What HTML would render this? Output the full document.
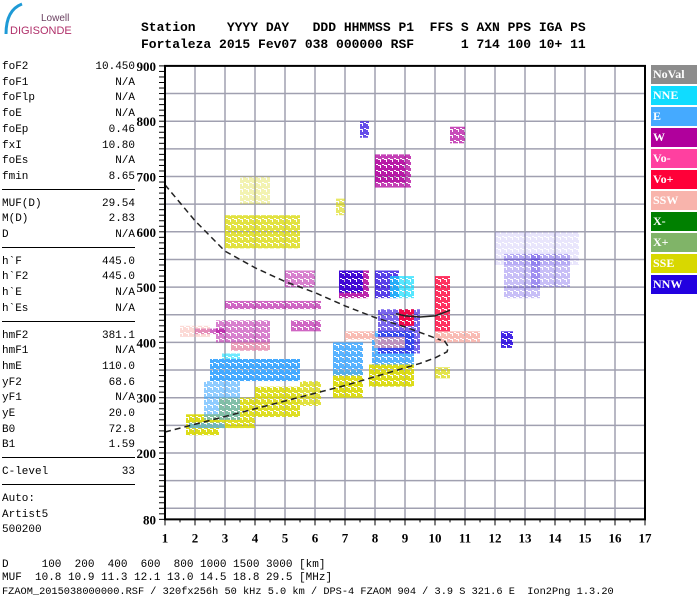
<!DOCTYPE html>
<html><head><meta charset="utf-8">
<style>
body{margin:0;background:#fff;width:700px;height:600px;overflow:hidden;position:relative;font-family:"Liberation Mono",monospace}
.hdr{position:absolute;left:141px;font:bold 13px "Liberation Mono",monospace;white-space:pre;color:#000}
.lp{position:absolute;left:2px;width:133px;font:11px "Liberation Mono",monospace;color:#000}
.lp span{position:absolute;right:0}
.sep{position:absolute;left:2px;width:133px;height:0;border-top:1px solid #000}
.bt{position:absolute;left:2px;font:11px "Liberation Mono",monospace;white-space:pre}
.lg{position:absolute;left:651px;width:46px;height:19px;color:#fff;font:bold 12px "Liberation Serif",serif;line-height:19px;padding-left:2px;box-sizing:border-box}
</style></head><body>
<div style="position:absolute;left:0;top:0;width:80px;height:40px">
<svg width="80" height="40"><path d="M6,34 Q6,10 22,4" stroke="#1e9ad6" stroke-width="3" fill="none"/>
<text x="41" y="21" font-family="Liberation Sans,sans-serif" font-size="10" fill="#6a4060">Lowell</text>
<text x="10" y="34" font-family="Liberation Sans,sans-serif" font-size="11" fill="#b0306a">DIGISONDE</text></svg></div>
<div class="hdr" style="top:20px">Station    YYYY DAY   DDD HHMMSS P1  FFS S AXN PPS IGA PS</div>
<div class="hdr" style="top:37px">Fortaleza 2015 Fev07 038 000000 RSF      1 714 100 10+ 11</div>
<div id="lp"></div>
<div class="bt" style="top:559px">D     100  200  400  600  800 1000 1500 3000 [km]</div>
<div class="bt" style="top:572px">MUF  10.8 10.9 11.3 12.1 13.0 14.5 18.8 29.5 [MHz]</div>
<div class="bt" style="top:586px;font-size:10.3px">FZAOM_2015038000000.RSF / 320fx256h 50 kHz 5.0 km / DPS-4 FZAOM 904 / 3.9 S 321.6 E  Ion2Png 1.3.20</div>
<div class="lg" style="top:65px;background:#8c8c8c">NoVal</div>
<div class="lg" style="top:86px;background:#10dcff">NNE</div>
<div class="lg" style="top:107px;background:#45aaff">E</div>
<div class="lg" style="top:128px;background:#b0009c">W</div>
<div class="lg" style="top:149px;background:#ff40a0">Vo-</div>
<div class="lg" style="top:170px;background:#ff0038">Vo+</div>
<div class="lg" style="top:191px;background:#f8b4ac">SSW</div>
<div class="lg" style="top:212px;background:#008000">X-</div>
<div class="lg" style="top:233px;background:#80b468">X+</div>
<div class="lg" style="top:254px;background:#d8d800">SSE</div>
<div class="lg" style="top:275px;background:#2200e0">NNW</div>
<svg id="chart" width="700" height="600" style="position:absolute;left:0;top:0"></svg>
<script>
const params=[["foF2","10.450"],["foF1","N/A"],["foFlp","N/A"],["foE","N/A"],["foEp","0.46"],["fxI","10.80"],["foEs","N/A"],["fmin","8.65"],null,["MUF(D)","29.54"],["M(D)","2.83"],["D","N/A"],null,["h`F","445.0"],["h`F2","445.0"],["h`E","N/A"],["h`Es","N/A"],null,["hmF2","381.1"],["hmF1","N/A"],["hmE","110.0"],["yF2","68.6"],["yF1","N/A"],["yE","20.0"],["B0","72.8"],["B1","1.59"],null,["C-level","33"],null,["Auto:",""],["Artist5",""],["500200",""]];
const xTicks=[1,2,3,4,5,6,7,8,9,10,11,12,13,14,15,16,17];
const yTicks=[80,200,300,400,500,600,700,800,900];
// clusters: [fStart, fEnd, hLow, hHigh, colour, density]
const clusterF0=[1.7,2.8,4.0,5.5,6.6,7.8,10.0, 1.8,2.3,2.5,6.6,7.9, 2.0,3.0,5.2,6.8,8.0,10.5,2.7,5.0,3.2, 6.8,8.0,7.5,12.2,12.3,13.2,8.1, 8.5,2.9, 7.0,10.0,1.5,3.2,8.0, 8.8,10.0, 3.0,8.0,6.7,3.5,12.0];
const clusterF1=[2.8,4.0,5.5,6.2,7.6,9.3,10.5, 3.0,3.5,5.5,7.6,9.3, 3.0,6.2,6.2,7.8,9.2,11.0,4.5,6.0,4.5, 7.6,8.8,7.8,12.6,13.5,14.5,9.5, 9.3,3.5, 8.0,11.5,2.5,4.5,9.0, 9.3,10.5, 5.5,9.0,7.0,4.5,14.8];
const clusterH0=[232,245,265,285,300,320,335, 245,260,330,340,360, 415,460,420,480,680,760,400,500,385, 490,480,770,390,480,500,380, 480,370, 405,400,410,385,390, 430,420, 570,690,630,650,540];
const clusterH1=[270,300,320,330,350,360,355, 255,330,370,400,420, 425,475,440,530,740,790,440,530,400, 530,530,800,420,560,560,460, 520,380, 420,420,430,400,410, 460,520, 630,730,660,700,600];
const clusterC=["#d8d800","#d8d800","#d8d800","#d8d800","#d8d800","#d8d800","#d8d800","#45aaff","#45aaff","#45aaff","#45aaff","#45aaff","#b0009c","#b0009c","#b0009c","#b0009c","#b0009c","#b0009c","#b0009c","#b0009c","#b0009c","#2200e0","#2200e0","#2200e0","#2200e0","#2200e0","#2200e0","#2200e0","#10dcff","#10dcff","#f8b4ac","#f8b4ac","#f8b4ac","#f8b4ac","#f8b4ac","#ff0038","#ff0038","#d8d800","#b0009c","#d8d800","#d8d800","#2200e0"];
const clusterD=[0.9,0.85,0.85,0.75,0.9,0.9,0.7, 0.7,0.6,1,0.9,0.9, 0.6,0.6,0.6,0.85,0.75,0.7,0.5,0.5,0.5, 0.8,0.75,0.7,0.85,0.25,0.25,0.6, 0.7,0.6, 0.9,0.9,0.5,0.6,0.7, 0.9,0.8, 0.75,0.6,0.6,0.3,0.1];
const upperCurveF=[1,2,3,4,5,6,7,8,9,9.5,10,10.2];
const upperCurveH=[685,620,565,535,510,490,466,445,428,418,408,404];
const lowerCurveF=[1,2,3,4,5,6,7,8,9,9.5,10,10.4,10.45,10.3];
const lowerCurveH=[238,252,266,280,294,308,322,338,354,362,372,383,392,404];
const profF=[8.7,9,9.5,10,10.5];
const profH=[452,448,446,448,458];

const lp=document.getElementById('lp');let yy=61;
params.forEach(p=>{
 if(p===null){const s=document.createElement('div');s.className='sep';s.style.top=(yy+2)+'px';
 
 
 lp.appendChild(s);yy+=11;return;}
 const d=document.createElement('div');d.className='lp';d.style.top=yy+'px';
 
 
 d.innerHTML=p[0]+'<span>'+p[1]+'</span>';lp.appendChild(d);yy+=15.7;});

const NS='http://www.w3.org/2000/svg',svg=document.getElementById('chart');
const X0=165,XS=30,fx=f=>X0+(f-1)*XS,hy=h=>453-(h-200)*0.553;
function el(t,a,name){const e=document.createElementNS(NS,t);for(const k in a)e.setAttribute(k,a[k]);
 
 
 svg.appendChild(e);return e;}
const defs=document.createElementNS(NS,'defs');svg.appendChild(defs);
const cols=[...new Set(clusterC)];
cols.forEach((c,i)=>{const p=document.createElementNS(NS,'pattern');p.setAttribute('id','pt'+i);p.setAttribute('width','6');p.setAttribute('height','6');p.setAttribute('patternUnits','userSpaceOnUse');
 p.innerHTML=`<rect x="0" y="0" width="4" height="3" fill="${c}"/><rect x="3" y="3" width="3" height="3" fill="${c}"/><rect x="4" y="0" width="2" height="2" fill="${c}"/><rect x="0" y="4" width="2" height="2" fill="${c}"/>`;defs.appendChild(p);});
for(let h=100;h<=850;h+=50)el('line',{x1:165,x2:645,y1:hy(h),y2:hy(h),stroke:'#a0a0b0','stroke-width':1.5},'grid-line-h');
xTicks.slice(1,-1).forEach(f=>el('line',{x1:fx(f),x2:fx(f),y1:hy(900),y2:hy(80),stroke:'#a0a0b0','stroke-width':1.5},'grid-line-v'));
clusterF0.forEach((f0,i)=>{
 el('rect',{x:fx(f0),y:hy(clusterH1[i]),width:(clusterF1[i]-f0)*XS,height:hy(clusterH0[i])-hy(clusterH1[i]),fill:'url(#pt'+cols.indexOf(clusterC[i])+')',opacity:clusterD[i]},'echo-cluster');
});
const pts=(F,H)=>F.map((f,i)=>fx(f)+','+hy(H[i])).join(' ');
el('polyline',{points:pts(upperCurveF,upperCurveH),fill:'none',stroke:'#222','stroke-width':1.5,'stroke-dasharray':'6,4'},'upper-dashed-curve');
el('polyline',{points:pts(lowerCurveF,lowerCurveH),fill:'none',stroke:'#222','stroke-width':1.5,'stroke-dasharray':'6,4'},'lower-dashed-curve');
el('polyline',{points:pts(profF,profH),fill:'none',stroke:'#222','stroke-width':1.5},'profile-curve');
el('rect',{x:165,y:hy(900),width:480,height:hy(80)-hy(900),fill:'none',stroke:'#000','stroke-width':2},'plot-frame');
for(let h=80;h<=900;h+=10)el('line',{x1:159,x2:165,y1:hy(h),y2:hy(h),stroke:'#000','stroke-width':1},'y-minor-tick');
for(let f=1;f<=17;f+=0.5)el('line',{x1:fx(f),x2:fx(f),y1:hy(80),y2:hy(80)+(f%1?3:6),stroke:'#000'},'x-tick');
yTicks.forEach(h=>{const t=el('text',{x:156,y:hy(h)+5,'text-anchor':'end','font-family':'Liberation Serif,serif','font-weight':'bold','font-size':13},'y-tick-label');t.textContent=h;});
xTicks.forEach(f=>{const t=el('text',{x:fx(f),y:hy(80)+23,'text-anchor':'middle','font-family':'Liberation Serif,serif','font-weight':'bold','font-size':13},'x-tick-label');t.textContent=f;});
</script>
</body></html>
